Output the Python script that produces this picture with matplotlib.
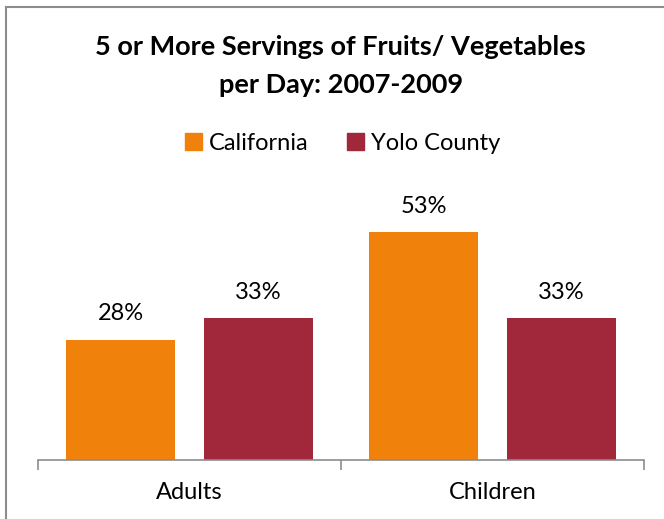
import matplotlib.pyplot as plt
import numpy as np
from matplotlib.lines import Line2D

groups = ['Adults', 'Children']
series = ['California', 'Yolo County']
california = [28, 53]
yolo = [33, 33]
colors = ['#F0820C', '#A0283A']

plt.rcParams['font.family'] = ['Lato', 'DejaVu Sans']

fig = plt.figure(figsize=(6.64, 5.19), dpi=100)
ax = fig.add_axes([38 / 664, 1 - 460 / 519, 606 / 664, 258 / 519])

x = np.arange(len(groups))
w = 0.36
off = 0.227
b1 = ax.bar(x - off, california, w, color=colors[0], label=series[0])
b2 = ax.bar(x + off, yolo, w, color=colors[1], label=series[1])

for bars, vals in ((b1, california), (b2, yolo)):
    for rect, v in zip(bars, vals):
        ax.annotate('%d%%' % v, (rect.get_x() + rect.get_width() / 2, v),
                    xytext=(0, 11), textcoords='offset points',
                    ha='center', va='bottom', fontsize=17, color='#000000')

ax.set_xlim(-0.5, 1.5)
ax.set_ylim(0, 60)
ax.set_yticks([])
for s in ('top', 'right', 'left'):
    ax.spines[s].set_visible(False)
ax.spines['bottom'].set_color('#8c8c8c')
ax.spines['bottom'].set_linewidth(1.2)

# group separators as major ticks, labels on minor ticks
ax.set_xticks([-0.5, 0.5, 1.5])
ax.set_xticklabels([])
ax.tick_params(axis='x', which='major', length=7, width=1.2, color='#8c8c8c')
ax.set_xticks(x, minor=True)
ax.set_xticklabels(groups, minor=True, fontsize=17)
ax.tick_params(axis='x', which='minor', length=0, pad=16)

fig.text(0.513, 1 - 47 / 519, '5 or More Servings of Fruits/ Vegetables',
         ha='center', va='center', fontsize=19.5, fontweight='bold')
fig.text(0.513, 1 - 85 / 519, 'per Day: 2007-2009',
         ha='center', va='center', fontsize=19.5, fontweight='bold')

handles = [plt.Rectangle((0, 0), 1, 1, color=c) for c in colors]
fig.legend(handles, series, loc='center', bbox_to_anchor=(0.516, 1 - 143 / 519),
           ncol=2, frameon=False, fontsize=17, handlelength=0.75, handleheight=0.75,
           handletextpad=0.3, columnspacing=1.6)

# outer chart border
fig.add_artist(Line2D([6 / 664, 6 / 664], [0, 1 - 7 / 519], color='#8c8c8c', lw=1.5,
                      transform=fig.transFigure))
fig.add_artist(Line2D([6 / 664, 1], [1 - 7 / 519, 1 - 7 / 519], color='#8c8c8c', lw=1.5,
                      transform=fig.transFigure))

fig.savefig('out.png', dpi=100)
